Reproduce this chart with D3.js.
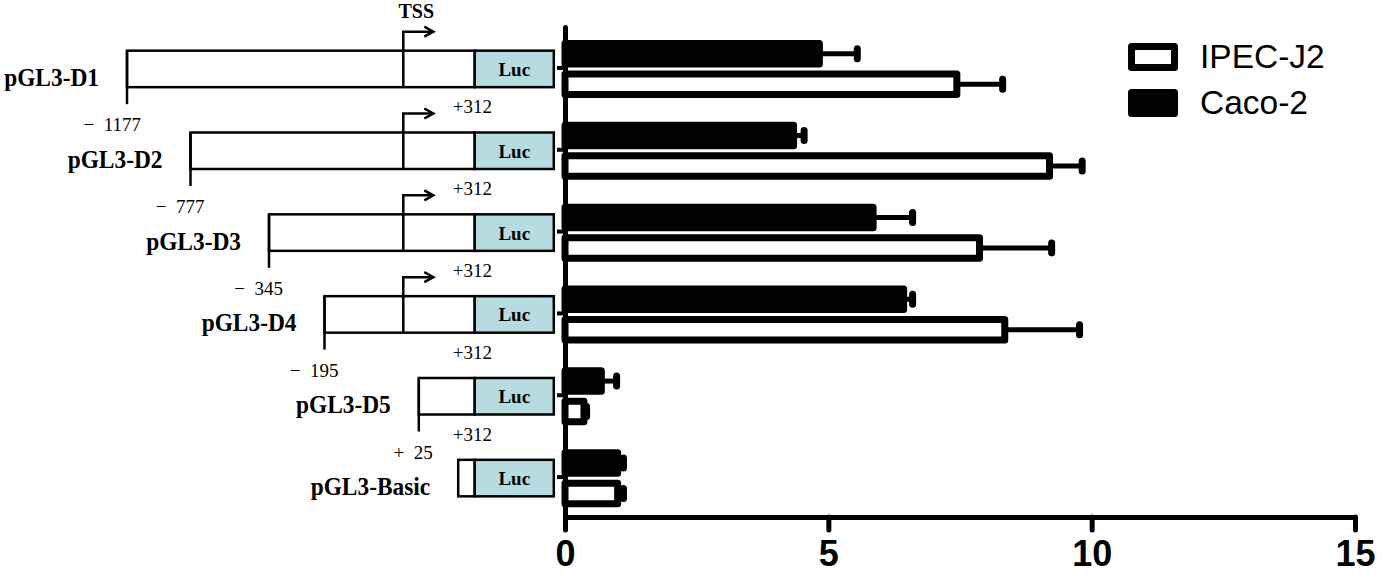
<!DOCTYPE html>
<html>
<head>
<meta charset="utf-8">
<script src="https://cdn.jsdelivr.net/npm/d3@7"></script>
<style>
  html, body { margin: 0; padding: 0; background: #fff; }
  svg { display: block; }
</style>
</head>
<body>
<svg id="chart" width="1392" height="575"></svg>
<script>
// ---------------- data ----------------
const categories = ["pGL3-D1", "pGL3-D2", "pGL3-D3", "pGL3-D4", "pGL3-D5", "pGL3-Basic"];
const series = ["Caco-2", "IPEC-J2"];           // drawing order within a row (top to bottom)
const legendOrder = ["IPEC-J2", "Caco-2"];
const cacoValues = [4.83, 4.34, 5.85, 6.43, 0.69, 1.00];
const cacoErrors = [0.72, 0.20, 0.75, 0.17, 0.29, 0.11];
const ipecValues = [7.44, 9.20, 7.87, 8.35, 0.36, 1.00];
const ipecErrors = [0.87, 0.62, 1.37, 1.42, 0.05, 0.11];
const xTicks = [0, 5, 10, 15];
// promoter construct schematic (bp positions relative to TSS)
const constructStarts = [-1177, -777, -345, -195, 25, null];
const startLabels = ["\u2212\u00a0\u00a01177", "\u2212\u00a0\u00a0777", "\u2212\u00a0\u00a0345", "\u2212\u00a0\u00a0195", "+\u00a0\u00a025", ""];
const lucStartBp = 312;
const lucStartLabel = "+312";
const tssLabel = "TSS";

// ---------------- layout ----------------
const svg = d3.select("#chart");
svg.append("rect").attr("width", 1392).attr("height", 575).attr("fill", "#fff");

const x = d3.scaleLinear().domain([0, 15]).range([565, 1355]);
const y = d3.scaleBand().domain(categories).range([27, 518]).padding(0);
const inner = d3.scaleBand().domain(series).range([13, 71]).paddingInner(0.1);
const colorFill = { "Caco-2": "#000", "IPEC-J2": "#fff" };
const valuesBy = { "Caco-2": cacoValues, "IPEC-J2": ipecValues };
const errorsBy = { "Caco-2": cacoErrors, "IPEC-J2": ipecErrors };

const rows = [];
categories.forEach((c, i) => {
  series.forEach(s => rows.push({ cat: c, s, v: valuesBy[s][i], e: errorsBy[s][i] }));
});

const SW = 7;
// error bars first (drawn behind bars)
const eb = svg.append("g");
eb.selectAll("line.whisk").data(rows).join("line")
  .attr("x1", d => x(d.v)).attr("x2", d => x(d.v + d.e))
  .attr("y1", d => y(d.cat) + inner(d.s) + inner.bandwidth() / 2)
  .attr("y2", d => y(d.cat) + inner(d.s) + inner.bandwidth() / 2)
  .attr("stroke", "#000").attr("stroke-width", 5);
eb.selectAll("line.cap").data(rows).join("line")
  .attr("x1", d => x(d.v + d.e)).attr("x2", d => x(d.v + d.e))
  .attr("y1", d => y(d.cat) + inner(d.s) + inner.bandwidth() / 2 - 5)
  .attr("y2", d => y(d.cat) + inner(d.s) + inner.bandwidth() / 2 + 5)
  .attr("stroke", "#000").attr("stroke-width", 7).attr("stroke-linecap", "round");

svg.append("g").selectAll("rect").data(rows).join("rect")
  .attr("x", x(0))
  .attr("y", d => y(d.cat) + inner(d.s) + SW / 2)
  .attr("width", d => x(d.v) - x(0))
  .attr("height", inner.bandwidth() - SW)
  .attr("fill", d => colorFill[d.s])
  .attr("stroke", "#000").attr("stroke-width", SW)
  .attr("stroke-linejoin", "round");

// axes
const xAxis = svg.append("g").attr("transform", "translate(0,517)")
  .call(d3.axisBottom(x).tickValues(xTicks).tickSize(13).tickSizeOuter(0).tickPadding(10).tickFormat(d3.format("d")));
xAxis.select(".domain").attr("stroke-width", 5).attr("stroke-linecap", "round");
xAxis.selectAll(".tick line").attr("stroke-width", 5).attr("stroke-linecap", "round");
xAxis.selectAll(".tick text").attr("font-family", "'Liberation Sans', Arial, sans-serif")
  .attr("font-weight", "bold").attr("font-size", 36).attr("fill", "#000");

const yAxis = svg.append("g").attr("transform", "translate(565,0)")
  .call(d3.axisLeft(y).tickSize(8).tickSizeOuter(0).tickFormat(""));
yAxis.select(".domain").attr("stroke-width", 5).attr("stroke-linecap", "round");
yAxis.selectAll(".tick line").attr("stroke-width", 4);

// legend
const lg = svg.append("g").selectAll("g").data(legendOrder).join("g")
  .attr("transform", (d, i) => `translate(1128,${43 + i * 46})`);
lg.append("rect").attr("x", SW / 2).attr("y", SW / 2).attr("width", 50 - SW).attr("height", 28 - SW)
  .attr("fill", d => colorFill[d]).attr("stroke", "#000").attr("stroke-width", SW)
  .attr("stroke-linejoin", "round");
lg.append("text").attr("x", 72).attr("y", 25).text(d => d)
  .attr("font-family", "'Liberation Sans', Arial, sans-serif").attr("font-size", 33.5).attr("fill", "#000");

// ---------------- construct schematic ----------------
const sx = d3.scaleLinear()
  .domain([-1177, -777, -345, -195, 0, 25, 312, 1000])
  .range([127, 190.5, 269, 324.5, 403.3, 418.8, 474.7, 553.8]);
const LUC_END = 1000;
const BASIC_STUB = 16.5;
const BOX_H = 36.5;
const serif = "'Liberation Serif', 'Times New Roman', serif";
const dg = svg.append("g").attr("fill", "none").attr("stroke", "#000").attr("stroke-width", 2.5);

categories.forEach((c, i) => {
  const cy = y(c) + y.bandwidth() / 2 + 1;
  const top = cy - BOX_H / 2, bot = cy + BOX_H / 2;
  const st = constructStarts[i];
  const left = st === null ? sx(lucStartBp) - BASIC_STUB : sx(st);
  const lucL = sx(lucStartBp), lucR = sx(LUC_END);
  // promoter part
  dg.append("rect").attr("x", left).attr("y", top).attr("width", lucL - left).attr("height", BOX_H).attr("fill", "#fff");
  // luc part
  dg.append("rect").attr("x", lucL).attr("y", top).attr("width", lucR - lucL).attr("height", BOX_H).attr("fill", "#b6dce1");
  svg.append("text").attr("x", (lucL + lucR) / 2).attr("y", cy + 7).attr("text-anchor", "middle")
    .attr("font-family", serif).attr("font-weight", "bold").attr("font-size", 19).text("Luc");
  if (st !== null) {
    // start tick line extending below
    dg.append("line").attr("x1", left).attr("x2", left).attr("y1", top).attr("y2", bot + 17);
    svg.append("text").attr("x", left + 14).attr("y", bot + 44).attr("text-anchor", "end")
      .attr("font-family", serif).attr("font-size", 19).text(startLabels[i]);
    svg.append("text").attr("x", lucL - 22).attr("y", bot + 26)
      .attr("font-family", serif).attr("font-size", 19).text(lucStartLabel);
    if (st < 0) {
      const tx = sx(0), ay = top - 19, tip = tx + 30;
      dg.append("path").attr("d", `M${tx},${bot}V${ay}H${tip}`);
      dg.append("path").attr("d", `M${tip - 9},${ay - 5}L${tip},${ay}L${tip - 9},${ay + 5}`);
      if (i === 0) {
        svg.append("text").attr("x", tx + 13).attr("y", ay - 14).attr("text-anchor", "middle")
          .attr("font-family", serif).attr("font-weight", "bold").attr("font-size", 20).text(tssLabel);
      }
    }
  }
  svg.append("text")
    .attr("transform", `translate(${left - 28},${cy + 17}) scale(0.9,1)`)
    .attr("text-anchor", "end")
    .attr("font-family", serif).attr("font-weight", "bold").attr("font-size", 26).text(c);
});
</script>
</body>
</html>
